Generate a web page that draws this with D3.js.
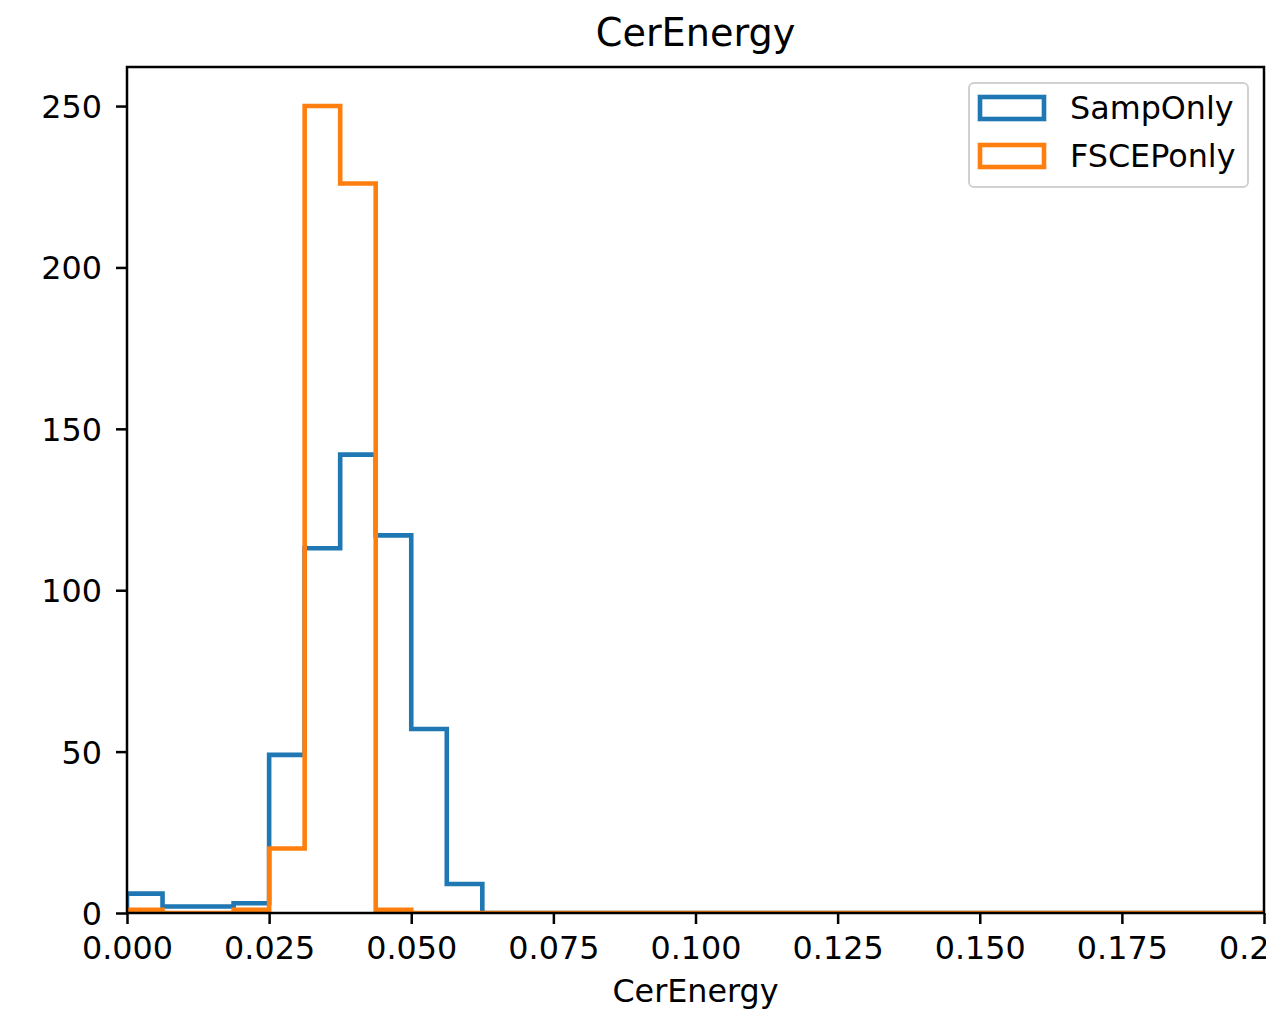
<!DOCTYPE html>
<html><head><meta charset="utf-8">
<script src="https://cdn.jsdelivr.net/npm/d3@7"></script>
<style>body{margin:0;background:#fff;} text{font-family:"DejaVu Sans",sans-serif;fill:#000;}</style>
</head><body>
<svg id="c" width="1266" height="1014"></svg>
<script>
const binEdges = d3.range(0, 33).map(i => i * 0.2 / 32);
const sampOnly = [6,2,2,3,49,113,142,117,57,9,0,0,0,0,0,0,0,0,0,0,0,0,0,0,0,0,0,0,0,0,0,0];
const fscepOnly = [1,0,0,1,20,250,226,1,0,0,0,0,0,0,0,0,0,0,0,0,0,0,0,0,0,0,0,0,0,0,0,0];
const seriesNames = ["SampOnly","FSCEPonly"];
const colors = ["#1f77b4","#ff7f0e"];
const xTicks = [0,0.025,0.05,0.075,0.1,0.125,0.15,0.175,0.2];
const xTickLabels = ["0.000","0.025","0.050","0.075","0.100","0.125","0.150","0.175","0.200"];
const yTicks = [0,50,100,150,200,250];

const L=127, R=1264, T=67, B=913;
const FS = 31.8;
const svg = d3.select("#c");
const x = d3.scaleLinear().domain([0,0.2]).range([L,R]);
const y = d3.scaleLinear().domain([0,262.1]).range([B,T]);

function stepPts(vals){
  const pts=[[binEdges[0],0]];
  vals.forEach((v,i)=>{pts.push([binEdges[i],v]);pts.push([binEdges[i+1],v]);});
  pts.push([binEdges[binEdges.length-1],0]);
  return pts;
}
const line = d3.line().x(d=>x(d[0])).y(d=>y(d[1]));
const g = svg.append("g");
g.append("clipPath").attr("id","clip").append("rect").attr("x",L).attr("y",T).attr("width",R-L).attr("height",B-T);
[sampOnly,fscepOnly].forEach((vals,i)=>{
  g.append("path").attr("d",line(stepPts(vals))).attr("fill","none")
   .attr("stroke",colors[i]).attr("stroke-width",4.6).attr("stroke-linejoin","miter")
   .attr("clip-path","url(#clip)");
});

// axes
const xa = svg.append("g").attr("transform",`translate(0,${B})`)
  .call(d3.axisBottom(x).tickValues(xTicks).tickFormat((d,i)=>xTickLabels[i]).tickSize(11).tickPadding(12));
const ya = svg.append("g").attr("transform",`translate(${L},0)`)
  .call(d3.axisLeft(y).tickValues(yTicks).tickSize(11).tickPadding(14));
[xa,ya].forEach(a=>{
  a.select(".domain").remove();
  a.selectAll("line").attr("stroke","#000").attr("stroke-width",2.5);
  a.selectAll("text").style("font-size",FS+"px").style("font-family","DejaVu Sans");
});
ya.selectAll("text").attr("dy","0.36em");
svg.append("rect").attr("x",L).attr("y",T).attr("width",R-L).attr("height",B-T)
  .attr("fill","none").attr("stroke","#000").attr("stroke-width",2.5);

svg.append("text").attr("x",(L+R)/2).attr("y",46).attr("text-anchor","middle").style("font-size","38.2px").text("CerEnergy");
svg.append("text").attr("x",(L+R)/2).attr("y",1002).attr("text-anchor","middle").style("font-size",FS+"px").text("CerEnergy");

// legend
const lg = svg.append("g");
lg.append("rect").attr("x",969).attr("y",83).attr("width",279).attr("height",104).attr("rx",5)
  .attr("fill","#fff").attr("fill-opacity",0.8).attr("stroke","#d0d0d0").attr("stroke-width",2);
seriesNames.forEach((n,i)=>{
  const yy = 95 + i*48;
  lg.append("rect").attr("x",980).attr("y",yy+2).attr("width",64).attr("height",22)
    .attr("fill","none").attr("stroke",colors[i]).attr("stroke-width",4.6);
  lg.append("text").attr("x",1070).attr("y",yy+24).style("font-size",FS+"px").text(n);
});
</script>
</body></html>
